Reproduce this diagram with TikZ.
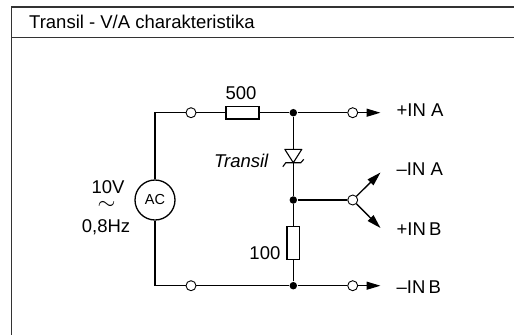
\documentclass[tikz,border=0pt]{standalone}
\usepackage{fontspec}
\setmainfont{Liberation Sans}
\usepackage{graphicx}
\usetikzlibrary{arrows.meta}

\begin{document}
\begin{tikzpicture}[x=1pt, y=-1pt, line width=1.3pt,
	terminal/.style={circle, draw, fill=white, line width=0.9pt, inner sep=0pt, minimum size=10pt,
		path picture={\fill (path picture bounding box.center) circle (0.9pt);}},
	dot/.style={circle, fill, inner sep=0pt, minimum size=7.5pt},
	resh/.style={rectangle, draw, inner sep=0pt, minimum width=33pt, minimum height=12.5pt},
	resv/.style={rectangle, draw, inner sep=0pt, minimum width=12.5pt, minimum height=33pt},
	lbl/.style={font=\fontsize{18.5}{21}\selectfont, inner sep=0pt},
	probe/.style={-{Triangle[length=14pt,width=8pt]}}]
			\useasboundingbox (0,0) rectangle (514,335);

			% frame with title bar
			\draw[black!80, line width=1.2pt] (514,7) -- (11.7,7) -- (11.7,335);
			\draw[black!80, line width=1.2pt] (11.7,37.5) -- (514,37.5);
			\node[lbl, anchor=base west] (title) at (28.5,28) {Transil - V/A charakteristika};

			% source
			\node[circle, draw, inner sep=0pt, minimum size=40pt, font=\fontsize{14.5}{16}\selectfont] (ac) at (155,200) {AC};
			\node[lbl] (volt) at (108,187) {10V};
			\node[inner sep=0pt] (tilde) at (106.5,205) {\scalebox{2.3}[2.2]{$\sim$}};
			\node[lbl] (freq) at (106,227.5) {0,8Hz};

			% terminals and junctions
			\node[terminal] (tl) at (191,112.7) {};
			\node[terminal] (bl) at (191,285.7) {};
			\node[resh] (r1) at (242.5,112.7) {};
			\node[resv] (r2) at (293.3,243.3) {};
			\node[dot] (jt) at (293.3,112.7) {};
			\node[dot] (jm) at (293.3,200) {};
			\node[dot] (jb) at (293.3,285.7) {};
			\node[terminal] (tr) at (352.7,112.7) {};
			\node[terminal] (tm) at (352.7,200) {};
			\node[terminal] (tb) at (352.7,285.7) {};
			\coordinate (d) at (293.3,156);
			\coordinate (atr) at (380.5,112.7);
			\coordinate (aup) at (380.5,172.5);
			\coordinate (adn) at (380.5,228);
			\coordinate (abr) at (380.5,285.7);

			\node[lbl] (v1) at (241,93.3) {500};
			\node[lbl, anchor=east] (v2) at (281,253) {100};
			\node[lbl, anchor=east, font=\fontsize{18.5}{21}\selectfont\itshape] (dname) at (269,161) {Transil};
			\node[lbl, anchor=west] (ina) at (396,110.5) {+IN A};
			\node[lbl, anchor=west] (nina) at (396,169) {--IN A};
			\node[lbl, anchor=west] (pinb) at (396,229.5) {+IN\,B};
			\node[lbl, anchor=west] (ninb) at (396,287) {--IN\,B};

			% wires
			\draw (ac.north) |- (tl);
			\draw (tl) -- (r1) -- (jt) -- (tr);
			\draw (jt) -- (jm) -- (tm);
			\draw (jm) -- (r2) -- (jb);
			\draw (ac.south) |- (bl);
			\draw (bl) -- (jb) -- (tb);
			\draw[probe] (tr) -- (atr);
			\draw[probe] (tm) -- (aup);
			\draw[probe] (tm) -- (adn);
			\draw[probe] (tb) -- (abr);

			% transil
			\draw[fill=white, line width=1.1pt, line join=round] ([shift={(-8.5,-6.7)}]d) -- ([shift={(8.5,-6.7)}]d) -- ([shift={(0,6.7)}]d) -- cycle;
			\draw[line width=1.1pt] ([shift={(-10.5,10.7)}]d) -- ([shift={(-7.5,6.7)}]d) -- ([shift={(7.5,6.7)}]d) -- ([shift={(10.5,3.3)}]d);
		\end{tikzpicture}
\end{document}
